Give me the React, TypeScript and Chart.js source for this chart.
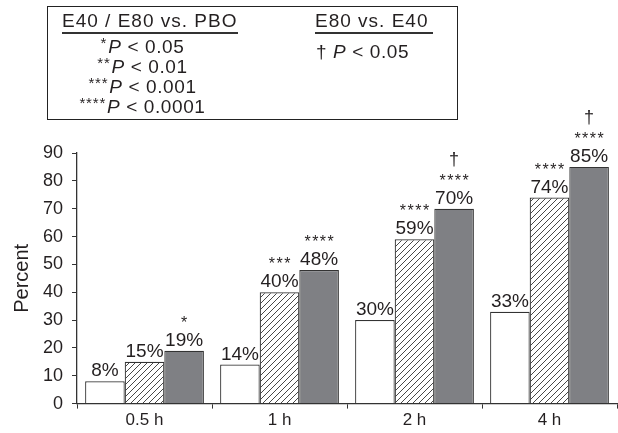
import React, { useEffect, useRef } from "react";
import { Chart, registerables } from "chart.js";

Chart.register(...registerables);

const categories = ["0.5 h", "1 h", "2 h", "4 h"];
const pboValues = [8, 14, 30, 33];
const e40Values = [15, 40, 59, 74];
const e80Values = [19, 48, 70, 85];
const pboStars = ["", "", "", ""];
const e40Stars = ["", "***", "****", "****"];
const e80Stars = ["*", "****", "****", "****"];
const pboDaggers = ["", "", "", ""];
const e40Daggers = ["", "", "", ""];
const e80Daggers = ["", "", "\u2020", "\u2020"];
const yMin = 0;
const yMax = 90;
const yStep = 10;

const FONT = "'Liberation Sans', Arial, Helvetica, sans-serif";
const INK = "#231f20";

function makeHatch(): CanvasPattern | string {
  const c = document.createElement("canvas");
  c.width = 6;
  c.height = 6;
  const g = c.getContext("2d");
  if (!g) return "#fff";
  g.fillStyle = "#ffffff";
  g.fillRect(0, 0, 6, 6);
  g.strokeStyle = "#333333";
  g.lineWidth = 0.9;
  g.beginPath();
  g.moveTo(-1, 7);
  g.lineTo(7, -1);
  g.moveTo(-1, 1);
  g.lineTo(1, -1);
  g.moveTo(5, 7);
  g.lineTo(7, 5);
  g.stroke();
  const p = g.createPattern(c, "repeat");
  return p || "#fff";
}

const starSets = [pboStars, e40Stars, e80Stars];
const daggerSets = [pboDaggers, e40Daggers, e80Daggers];

const labelPlugin = {
  id: "barLabels",
  afterDatasetsDraw(chart: any) {
    const ctx = chart.ctx as CanvasRenderingContext2D;
    ctx.save();
    ctx.fillStyle = INK;
    ctx.textAlign = "center";
    ctx.textBaseline = "alphabetic";
    chart.data.datasets.forEach((ds: any, i: number) => {
      const meta = chart.getDatasetMeta(i);
      meta.data.forEach((el: any, j: number) => {
        const v = ds.data[j];
        const base = el.y - 5;
        ctx.font = `19px ${FONT}`;
        (ctx as any).letterSpacing = "0px";
        ctx.fillText(`${v}%`, el.x, base);
        const s = starSets[i][j];
        if (s) {
          ctx.font = `16px ${FONT}`;
          (ctx as any).letterSpacing = "1.5px";
          ctx.fillText(s, el.x + 0.75, base - 18);
          (ctx as any).letterSpacing = "0px";
        }
        const d = daggerSets[i][j];
        if (d) {
          ctx.font = `18px ${FONT}`;
          ctx.fillText(d, el.x, base - 38.5);
        }
      });
    });
    ctx.restore();
  },
};

function ChartCanvas() {
  const ref = useRef<HTMLCanvasElement | null>(null);
  useEffect(() => {
    if (!ref.current) return;
    const hatch = makeHatch();
    const chart = new Chart(ref.current, {
      type: "bar",
      data: {
        labels: categories,
        datasets: [
          {
            label: "PBO",
            data: pboValues,
            backgroundColor: "#ffffff",
            borderColor: "#333333",
            borderWidth: 1.2,
            barPercentage: 1,
            categoryPercentage: 0.88,
          },
          {
            label: "E40",
            data: e40Values,
            backgroundColor: hatch as any,
            borderColor: "#333333",
            borderWidth: 1.2,
            barPercentage: 1,
            categoryPercentage: 0.88,
          },
          {
            label: "E80",
            data: e80Values,
            backgroundColor: "#7f8084",
            borderColor: "#333333",
            borderWidth: 1.2,
            barPercentage: 1,
            categoryPercentage: 0.88,
          },
        ],
      },
      options: {
        responsive: false,
        animation: false,
        devicePixelRatio: 1,
        layout: { padding: { top: 153, left: 8, right: 1, bottom: 0 } },
        plugins: {
          legend: { display: false },
          tooltip: { enabled: false },
          title: { display: false },
        },
        scales: {
          x: {
            type: "category",
            offset: true,
            grid: {
              display: true,
              offset: true,
              drawOnChartArea: false,
              drawTicks: true,
              tickLength: 5,
              color: "#333333",
            },
            border: { display: true, color: "#333333", width: 1.3 },
            ticks: {
              color: INK,
              font: { family: FONT, size: 17 },
              padding: 2,
              maxRotation: 0,
            },
          },
          y: {
            min: yMin,
            max: yMax,
            grid: {
              display: true,
              drawOnChartArea: false,
              drawTicks: true,
              tickLength: 5,
              color: "#333333",
            },
            border: { display: true, color: "#333333", width: 1.3 },
            ticks: {
              stepSize: yStep,
              color: INK,
              font: { family: FONT, size: 18 },
              padding: 9,
            },
            title: {
              display: true,
              text: "Percent",
              color: INK,
              font: { family: FONT, size: 20 },
              padding: { top: 2, bottom: 0 },
            },
          },
        },
      },
      plugins: [labelPlugin],
    });
    return () => chart.destroy();
  }, []);
  return (
    <canvas
      ref={ref}
      width={618}
      height={433}
      style={{ position: "absolute", left: 0, top: 0, width: 618, height: 433 }}
    />
  );
}

const txt: React.CSSProperties = {
  position: "absolute",
  fontFamily: FONT,
  fontSize: 19,
  lineHeight: "19px",
  color: INK,
  whiteSpace: "nowrap",
  letterSpacing: "0.6px",
};

const sup: React.CSSProperties = {
  fontSize: 15,
  position: "relative",
  top: -5,
  letterSpacing: "0.8px",
  marginRight: 1,
};

function Row({ stars, num, top }: { stars: string; num: string; top: number }) {
  return (
    <div style={{ ...txt, left: 60, width: 165, top, textAlign: "center" }}>
      <span style={sup}>{stars}</span>
      <i>P</i> &lt; {num}
    </div>
  );
}

export default function App() {
  return (
    <div
      style={{
        position: "fixed",
        left: 0,
        top: 0,
        width: 618,
        height: 433,
        background: "#ffffff",
        overflow: "hidden",
      }}
    >
      <ChartCanvas />
      <div
        style={{
          position: "absolute",
          left: 47,
          top: 6,
          width: 411,
          height: 114,
          border: "1.3px solid #222",
          boxSizing: "border-box",
        }}
      />
      <div style={{ ...txt, left: 62, top: 11, letterSpacing: "1px" }}>E40 / E80 vs. PBO</div>
      <div style={{ position: "absolute", left: 62, top: 32, width: 176, height: 1.5, background: "#333" }} />
      <Row stars="*" num="0.05" top={37} />
      <Row stars="**" num="0.01" top={57} />
      <Row stars="***" num="0.001" top={77} />
      <Row stars="****" num="0.0001" top={97} />
      <div style={{ ...txt, left: 315, top: 11, letterSpacing: "1px" }}>E80 vs. E40</div>
      <div style={{ position: "absolute", left: 315, top: 32, width: 118, height: 1.5, background: "#333" }} />
      <div style={{ ...txt, left: 316, top: 42 }}>
        {"\u2020 "}
        <i>P</i> &lt; 0.05
      </div>
    </div>
  );
}
